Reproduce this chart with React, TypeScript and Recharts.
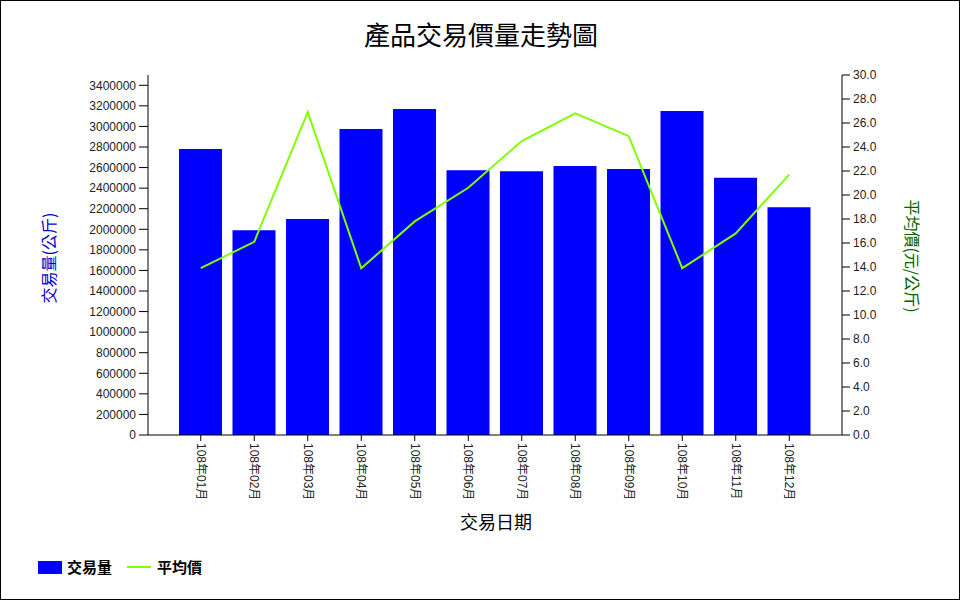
import React from 'react';
import { ComposedChart, Bar, Line, XAxis, YAxis } from 'recharts';

const months = [
  '108年01月', '108年02月', '108年03月', '108年04月', '108年05月', '108年06月',
  '108年07月', '108年08月', '108年09月', '108年10月', '108年11月', '108年12月',
];
const volume = [
  2780000, 1990000, 2100000, 2975000, 3170000, 2575000,
  2565000, 2615000, 2585000, 3150000, 2500000, 2215000,
];
const avgPrice = [13.9, 16.1, 26.9, 13.9, 17.8, 20.6, 24.5, 26.8, 24.9, 13.9, 16.8, 21.7];

const volumeTicks = [
  0, 200000, 400000, 600000, 800000, 1000000, 1200000, 1400000, 1600000,
  1800000, 2000000, 2200000, 2400000, 2600000, 2800000, 3000000, 3200000, 3400000,
];
const priceTicks = [0, 2, 4, 6, 8, 10, 12, 14, 16, 18, 20, 22, 24, 26, 28, 30];

const data = months.map((m, i) => ({ month: m, volume: volume[i], price: avgPrice[i] }));

const tickFont = '"Liberation Sans", Arial, "Noto Sans CJK TC", sans-serif';
const cjkFont = '"Noto Sans CJK TC", "Liberation Sans", sans-serif';

function MonthTick(props: any) {
  const { x, y, payload } = props;
  return (
    <text
      x={x}
      y={y}
      transform={`rotate(90, ${x}, ${y})`}
      dominantBaseline="central"
      textAnchor="start"
      fontSize={12}
      fontFamily={tickFont}
      fill="#222"
    >
      {payload.value}
    </text>
  );
}

export default function App() {
  return (
    <div
      style={{
        position: 'absolute',
        left: 0,
        top: 0,
        width: 960,
        height: 600,
        border: '1px solid #000',
        boxSizing: 'border-box',
        background: '#fff',
        overflow: 'hidden',
      }}
    >
      <div
        style={{
          position: 'absolute', left: 0, top: 16, width: 960, textAlign: 'center',
          fontSize: 26, fontFamily: cjkFont, color: '#000', lineHeight: '34px',
        }}
      >
        產品交易價量走勢圖
      </div>

      <div style={{ position: 'absolute', left: -1, top: -1 }}>
        <ComposedChart
          width={960}
          height={600}
          data={data}
          margin={{ top: 75, right: 0, bottom: 0, left: 0 }}
        >
          <XAxis
            dataKey="month"
            height={165}
            padding={{ left: 26, right: 26 }}
            tickLine={{ stroke: '#000' }}
            axisLine={{ stroke: '#000' }}
            tickSize={6}
            tickMargin={2}
            interval={0}
            tick={<MonthTick />}
          />
          <YAxis
            yAxisId="left"
            orientation="left"
            width={148}
            domain={[0, 3500000]}
            ticks={volumeTicks}
            interval={0}
            tickSize={9}
            tickMargin={3}
            axisLine={{ stroke: '#000' }}
            tickLine={{ stroke: '#000' }}
            tick={{ fontSize: 12, fontFamily: tickFont, fill: '#222' }}
          />
          <YAxis
            yAxisId="right"
            orientation="right"
            width={118}
            domain={[0, 30]}
            ticks={priceTicks}
            interval={0}
            tickSize={8}
            tickMargin={3}
            axisLine={{ stroke: '#000' }}
            tickLine={{ stroke: '#000' }}
            tickFormatter={(v: number) => v.toFixed(1)}
            tick={{ fontSize: 12, fontFamily: tickFont, fill: '#222' }}
          />
          <Bar
            yAxisId="left"
            dataKey="volume"
            name="交易量"
            fill="#0000ff"
            barSize={43}
            isAnimationActive={false}
          />
          <Line
            yAxisId="right"
            dataKey="price"
            name="平均價"
            type="linear"
            stroke="#7fff00"
            strokeWidth={2}
            dot={false}
            activeDot={false}
            isAnimationActive={false}
          />
        </ComposedChart>
      </div>

      <div
        style={{
          position: 'absolute', left: 47, top: 257, transform: 'translate(-50%, -50%) rotate(-90deg)',
          whiteSpace: 'nowrap', fontSize: 16, fontFamily: cjkFont, color: '#0000cc',
        }}
      >
        交易量(公斤)
      </div>
      <div
        style={{
          position: 'absolute', left: 912, top: 255, transform: 'translate(-50%, -50%) rotate(90deg)',
          whiteSpace: 'nowrap', fontSize: 16, fontFamily: cjkFont, color: '#006400',
        }}
      >
        平均價(元/公斤)
      </div>
      <div
        style={{
          position: 'absolute', left: 495, top: 520, transform: 'translate(-50%, -50%)',
          whiteSpace: 'nowrap', fontSize: 18, fontFamily: cjkFont, color: '#000',
        }}
      >
        交易日期
      </div>

      <div
        style={{
          position: 'absolute', left: 37, top: 556, display: 'flex', alignItems: 'center',
          fontSize: 15, fontWeight: 'bold', fontFamily: cjkFont, color: '#000', lineHeight: '20px',
        }}
      >
        <span style={{ display: 'inline-block', width: 24, height: 13, background: '#0000ff', marginRight: 5 }} />
        <span>交易量</span>
        <span style={{ display: 'inline-block', width: 24, height: 2, background: '#7fff00', marginLeft: 15, marginRight: 6 }} />
        <span>平均價</span>
      </div>
    </div>
  );
}
